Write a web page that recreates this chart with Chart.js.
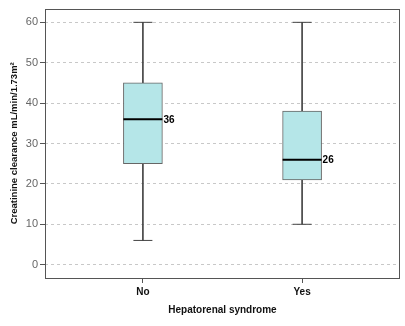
<!DOCTYPE html>
<html>
<head>
<meta charset="utf-8">
<script src="https://cdn.jsdelivr.net/npm/chart.js@4"></script>
<style>
  html, body { margin: 0; padding: 0; background: #fff; }
  #wrap { width: 405px; height: 326px; }
</style>
</head>
<body>
<div id="wrap"><canvas id="chart"></canvas></div>
<script>
// box plot values, one per group
var categories = ['No', 'Yes'];
var mins = [6, 10];
var q1s = [25, 21];
var medians = [36, 26];
var q3s = [45, 38];
var maxs = [60, 60];
var yTicks = [0, 10, 20, 30, 40, 50, 60];

var font = 'Liberation Sans, Arial, sans-serif';

var boxData = categories.map(function(c, i){ return {x: i, y: [q1s[i], q3s[i]]}; });
var lowWhisker = categories.map(function(c, i){ return {x: i, y: [mins[i], q1s[i]]}; });
var highWhisker = categories.map(function(c, i){ return {x: i, y: [q3s[i], maxs[i]]}; });
var caps = [];
categories.forEach(function(c, i){
  caps.push({x: i, y: mins[i]});
  caps.push({x: i, y: maxs[i]});
});
var medianPts = categories.map(function(c, i){ return {x: i, y: medians[i]}; });

// frame round the plot area and median labels
var framePlugin = {
  id: 'frame',
  afterDraw: function(chart){
    var a = chart.chartArea, ctx = chart.ctx;
    ctx.save();
    ctx.strokeStyle = '#555';
    ctx.lineWidth = 1;
    ctx.strokeRect(Math.round(a.left) + 0.5, Math.round(a.top) + 0.5,
      Math.round(a.right - a.left) - 1, Math.round(a.bottom - a.top));
    var xs = chart.scales.x, ys = chart.scales.y;
    ctx.fillStyle = '#000';
    ctx.font = 'bold 10px ' + font;
    ctx.textBaseline = 'middle';
    ctx.textAlign = 'left';
    medians.forEach(function(m, i){
      ctx.fillText(String(m), xs.getPixelForValue(i) + 20.5, ys.getPixelForValue(m) + 0.5);
    });
    ctx.restore();
  }
};

window.boxChart = new Chart(document.getElementById('chart').getContext('2d'), {
  type: 'bar',
  data: {
    datasets: [{
      label: 'low whisker',
      data: lowWhisker,
      backgroundColor: '#444',
      barThickness: 1,
      grouped: false,
      order: 3
    }, {
      label: 'high whisker',
      data: highWhisker,
      backgroundColor: '#444',
      barThickness: 1,
      grouped: false,
      order: 3
    }, {
      label: 'box',
      data: boxData,
      backgroundColor: '#b5e6e8',
      borderColor: '#666',
      borderWidth: 1,
      borderSkipped: false,
      barThickness: 39,
      grouped: false,
      order: 2
    }, {
      type: 'scatter',
      label: 'caps',
      data: caps,
      pointStyle: 'line',
      radius: 9.5,
      borderColor: '#444',
      borderWidth: 1,
      order: 1
    }, {
      type: 'scatter',
      label: 'median',
      data: medianPts,
      pointStyle: 'line',
      radius: 19.5,
      borderColor: '#000',
      borderWidth: 2,
      order: 0
    }]
  },
  options: {
    responsive: true,
    maintainAspectRatio: false,
    animation: false,
    layout: { autoPadding: false, padding: { top: 5, right: 5, left: 0, bottom: 0 } },
    plugins: {
      legend: { display: false },
      tooltip: { enabled: false }
    },
    scales: {
      x: {
        type: 'linear',
        min: -0.615,
        max: 1.615,
        offset: false,
        afterBuildTicks: function(axis){
          axis.ticks = categories.map(function(c, i){ return {value: i}; });
        },
        afterFit: function(axis){ axis.height = 48; },
        ticks: {
          callback: function(v){ return categories[v]; },
          color: '#111',
          font: { family: font, size: 10, weight: 'bold' },
          padding: 3,
          maxRotation: 0
        },
        grid: {
          offset: false,
          drawOnChartArea: false,
          tickLength: 5,
          tickColor: '#555'
        },
        border: { display: false },
        title: {
          display: true,
          text: 'Hepatorenal syndrome',
          color: '#111',
          font: { family: font, size: 10, weight: 'bold' },
          padding: { top: 0, bottom: 10 }
        }
      },
      y: {
        min: -3.3,
        max: 63.4,
        afterBuildTicks: function(axis){
          axis.ticks = yTicks.map(function(v){ return {value: v}; });
        },
        afterFit: function(axis){ axis.width = 45; },
        ticks: {
          color: '#666',
          font: { family: font, size: 11 },
          padding: 2
        },
        grid: {
          color: '#c8c8c8',
          tickLength: 5,
          tickColor: '#555'
        },
        border: { display: false, dash: [3, 3] },
        title: {
          display: true,
          text: 'Creatinine clearance mL/min/1.73m²',
          color: '#111',
          font: { family: font, size: 9.5, weight: 'bold' },
          padding: { top: 9, bottom: 0 }
        }
      }
    }
  },
  plugins: [framePlugin]
});
</script>
</body>
</html>
